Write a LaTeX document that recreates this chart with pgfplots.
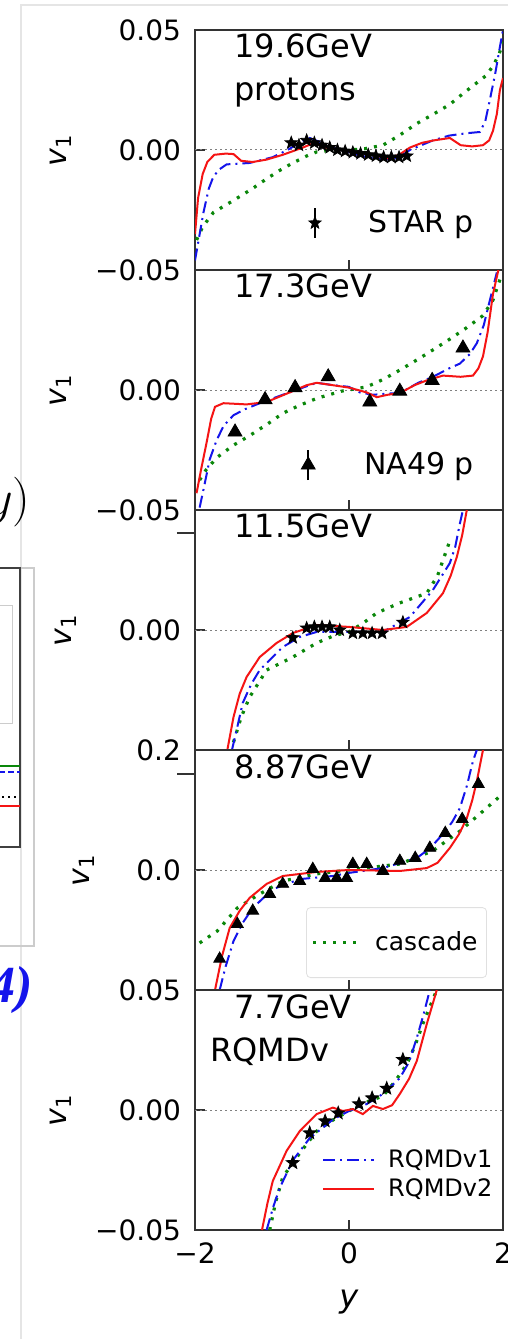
\documentclass[border=0pt]{standalone}
\usepackage{fontspec}
\setmainfont{DejaVu Sans}
\newfontfamily\timesfont{Liberation Serif}
\usepackage{pgfplots}
\pgfplotsset{compat=1.18}
\definecolor{mgreen}{RGB}{10,135,10}
\definecolor{mred}{RGB}{245,20,20}
\definecolor{mblue}{RGB}{20,20,235}
\pgfdeclareplotmark{fstar}{%
  \pgfpathmoveto{\pgfpointpolar{90}{\pgfplotmarksize}}%
  \pgfpathlineto{\pgfpointpolar{126}{0.42\pgfplotmarksize}}%
  \pgfpathlineto{\pgfpointpolar{162}{\pgfplotmarksize}}%
  \pgfpathlineto{\pgfpointpolar{198}{0.42\pgfplotmarksize}}%
  \pgfpathlineto{\pgfpointpolar{234}{\pgfplotmarksize}}%
  \pgfpathlineto{\pgfpointpolar{270}{0.42\pgfplotmarksize}}%
  \pgfpathlineto{\pgfpointpolar{306}{\pgfplotmarksize}}%
  \pgfpathlineto{\pgfpointpolar{342}{0.42\pgfplotmarksize}}%
  \pgfpathlineto{\pgfpointpolar{18}{\pgfplotmarksize}}%
  \pgfpathlineto{\pgfpointpolar{54}{0.42\pgfplotmarksize}}%
  \pgfpathclose\pgfusepathqfillstroke}
\tikzset{ann/.style={anchor=base west, inner sep=0pt, font=\fontsize{16}{19}\selectfont}}
\pgfplotsset{
  panel/.style={
    width=154pt, height=120pt, scale only axis,
    xmin=-2, xmax=2, xtick={-2,0,2}, xticklabels={},
    scaled ticks=false,
    xtick pos=left, ytick pos=left,
    tick align=inside, major tick length=5pt,
    axis line style={line width=1.2pt, black!80},
    every tick/.style={black!80, line width=0.9pt},
    ylabel={\textit{v}\textsubscript{1}},
    ylabel style={font=\fontsize{15}{18}\selectfont},
    ylabel shift=5pt,
    tick label style={font=\fontsize{14}{16}\selectfont},
    yticklabel style={xshift=-3.5pt},
    extra y tick style={tick align=outside, major tick length=9pt},
    extra y tick labels={},
  },
  redl/.style={mred, line width=1pt, forget plot},
  bluel/.style={mblue, line width=1pt, dash pattern=on 6pt off 2.5pt on 1pt off 2.5pt, forget plot},
  greenl/.style={mgreen, line width=1.6pt, dash pattern=on 1.5pt off 3.5pt, forget plot},
  zerol/.style={black!50, line width=0.5pt, dash pattern=on 1pt off 1.5pt, forget plot},
  errleg/.style={legend image code/.code={%
     \draw[black, line width=1pt] (0pt,-7.5pt) -- (0pt,7.5pt);
     \draw[##1] plot coordinates {(0pt,0pt)};
     \path[draw=none] (-4pt,0pt) -- (#1,0pt);}},
  lineleg/.style={legend image code/.code={%
     \draw[##1] (0pt,0pt) -- (#1,0pt);
     \path[draw=none] (0pt,0pt) -- ([xshift=5pt]#1,0pt);}},
}
\begin{document}
\begin{tikzpicture}
\path[use as bounding box] (0,0) rectangle (254pt,-669.5pt);
\fill[white] (0,0) rectangle (254pt,-669.5pt);
% fragments of the neighbouring figure on the left
\draw[black!10, line width=0.6pt] (10.5pt,-669.5pt) -- (10.5pt,-2.5pt) -- (254pt,-2.5pt);
\draw[black!20, line width=0.6pt] (-5pt,-284pt) -- (17pt,-284pt) -- (17pt,-473pt) -- (-5pt,-473pt);
\draw[black!75, line width=1pt] (-5pt,-284pt) -- (10pt,-284pt) -- (10pt,-423.5pt) -- (-5pt,-423.5pt);
\draw[black!20, line width=0.5pt] (-5pt,-302.5pt) -- (6pt,-302.5pt) -- (6pt,-361.5pt) -- (-5pt,-361.5pt);
\draw[mgreen, line width=1pt] (-5pt,-383pt) -- (10pt,-383pt);
\draw[mblue, line width=1pt, dash pattern=on 3pt off 1.5pt] (-5pt,-386pt) -- (10pt,-386pt);
\draw[black, line width=1pt, dash pattern=on 1pt off 2pt] (-5pt,-398.5pt) -- (10pt,-398.5pt);
\draw[mred, line width=1pt] (-5pt,-403pt) -- (10pt,-403pt);
\node[anchor=east, inner sep=0pt, font=\fontsize{25}{30}\selectfont] at (15.5pt,-251pt) {$(y)$};
\node[anchor=east, inner sep=0pt, text=mblue, font=\timesfont\bfseries\itshape\fontsize{26}{30}\selectfont] at (16.5pt,-495pt) {(2014)};

% ---------- panel 1 : 19.6 GeV ----------
\begin{axis}[panel, at={(97.5pt,-15pt)}, anchor=north west,
  ymin=-0.05, ymax=0.05, ytick={-0.05,0,0.05}, yticklabels={−0.05,0.00,0.05},
  legend style={at={(0.92,0.196)}, anchor=east, draw=none, fill=none, inner sep=0pt,
    font=\fontsize{15}{18}\selectfont}]
\addplot[zerol] coordinates {(-2,0) (2,0)};
\addplot[greenl] coordinates {(-1.98,-0.0375) (-1.9,-0.032) (-1.76,-0.026) (-1.5,-0.021) (-1.25,-0.016) (-1.07,-0.012) (-0.9,-0.0085) (-0.73,-0.0054) (-0.55,-0.0025) (-0.42,-0.0008) (-0.2,0) (0,0) (0.2,0.0005) (0.44,0.002) (0.65,0.006) (0.88,0.011) (1.1,0.015) (1.31,0.019) (1.5,0.024) (1.66,0.028) (1.78,0.031) (1.87,0.035) (1.95,0.04) (2,0.045)};
\addplot[bluel] coordinates {(-2,-0.046) (-1.95,-0.037) (-1.89,-0.026) (-1.82,-0.016) (-1.76,-0.011) (-1.68,-0.008) (-1.59,-0.006) (-1.29,-0.0054) (-0.99,-0.003) (-0.8,0) (-0.64,0.003) (-0.51,0.005) (-0.35,0.003) (-0.21,0.001) (0,-0.001) (0.23,-0.003) (0.53,-0.004) (0.65,-0.003) (0.79,0) (1.09,0.004) (1.3,0.006) (1.53,0.007) (1.7,0.0075) (1.77,0.012) (1.83,0.021) (1.9,0.032) (1.96,0.043) (2,0.05)};
\addplot[redl] coordinates {(-2,-0.035) (-1.96,-0.02) (-1.9,-0.01) (-1.84,-0.005) (-1.75,-0.002) (-1.6,-0.0015) (-1.5,-0.0017) (-1.4,-0.0045) (-1.25,-0.005) (-1.07,-0.004) (-0.86,-0.002) (-0.6,0.001) (-0.45,0.003) (-0.3,0.001) (-0.1,0) (0.1,-0.001) (0.3,-0.002) (0.5,-0.0035) (0.65,-0.002) (0.79,0.001) (0.95,0.003) (1.1,0.004) (1.31,0.005) (1.45,0.002) (1.6,0.0015) (1.74,0.002) (1.82,0.004) (1.87,0.008) (1.92,0.015) (1.96,0.025) (2,0.03)};
\addplot[black, only marks, mark=fstar, mark size=3.2pt, errleg=25pt]
  coordinates {(-0.75,0.003) (-0.65,0.002) (-0.55,0.004) (-0.45,0.003) (-0.35,0.002) (-0.25,0.001) (-0.15,0) (-0.05,-0.0005) (0.05,-0.001) (0.15,-0.0015) (0.25,-0.002) (0.35,-0.0025) (0.45,-0.003) (0.55,-0.003) (0.65,-0.003) (0.75,-0.0025)};
\addlegendentry{STAR p}
\node[ann] at (rel axis cs:0.127,0.8875) {19.6GeV};
\node[ann] at (rel axis cs:0.127,0.708) {protons};
\end{axis}

% ---------- panel 2 : 17.3 GeV ----------
\begin{axis}[panel, at={(97.5pt,-135pt)}, anchor=north west,
  ymin=-0.05, ymax=0.05, ytick={-0.05,0}, yticklabels={−0.05,0.00},
  legend style={at={(0.92,0.1875)}, anchor=east, draw=none, fill=none, inner sep=0pt,
    font=\fontsize{15}{18}\selectfont}]
\addplot[zerol] coordinates {(-2,0) (2,0)};
\addplot[greenl] coordinates {(-1.94,-0.0375) (-1.85,-0.033) (-1.71,-0.028) (-1.5,-0.023) (-1.29,-0.019) (-1.05,-0.014) (-0.86,-0.0097) (-0.65,-0.0065) (-0.42,-0.0035) (-0.1,-0.0005) (0.23,0.0013) (0.45,0.0045) (0.66,0.0083) (0.88,0.0125) (1.09,0.0167) (1.3,0.021) (1.53,0.026) (1.74,0.031) (1.87,0.0375) (1.96,0.046)};
\addplot[bluel] coordinates {(-1.94,-0.049) (-1.88,-0.04) (-1.81,-0.029) (-1.72,-0.021) (-1.63,-0.015) (-1.5,-0.0105) (-1.35,-0.008) (-1.16,-0.0055) (-0.86,-0.002) (-0.6,0.001) (-0.42,0.003) (-0.2,0.002) (0,0.0013) (0.14,-0.001) (0.31,-0.002) (0.5,-0.0015) (0.66,-0.0013) (0.9,0.003) (1.09,0.0055) (1.3,0.009) (1.44,0.011) (1.57,0.015) (1.66,0.0195) (1.75,0.027) (1.83,0.0375) (1.92,0.049)};
\addplot[redl] coordinates {(-1.98,-0.043) (-1.92,-0.033) (-1.85,-0.022) (-1.79,-0.012) (-1.74,-0.007) (-1.63,-0.0055) (-1.33,-0.006) (-1.07,-0.005) (-0.77,-0.001) (-0.55,0.002) (-0.42,0.003) (-0.21,0.002) (0,0.001) (0.23,-0.001) (0.36,-0.003) (0.5,-0.002) (0.66,-0.0013) (0.85,0.002) (1.01,0.004) (1.22,0.006) (1.45,0.0055) (1.61,0.006) (1.68,0.009) (1.74,0.014) (1.8,0.024) (1.87,0.04) (1.94,0.05)};
\addplot[black, only marks, mark=triangle*, mark size=4pt, errleg=26pt]
  coordinates {(-1.48,-0.0175) (-1.09,-0.004) (-0.70,0.001) (-0.27,0.0055) (0.27,-0.005) (0.66,-0.0005) (1.08,0.004) (1.48,0.0175)};
\addlegendentry{NA49 p}
\node[ann] at (rel axis cs:0.127,0.8875) {17.3GeV};
\end{axis}

% ---------- panel 3 : 11.5 GeV ----------
\begin{axis}[panel, at={(97.5pt,-255pt)}, anchor=north west,
  ymin=-0.062, ymax=0.062, ytick={-0.062,0}, yticklabels={0.2,0.00},
  extra y ticks={0.05}]
\addplot[zerol] coordinates {(-2,0) (2,0)};
\addplot[greenl] coordinates {(-1.5,-0.058) (-1.4,-0.045) (-1.29,-0.0346) (-1.07,-0.0207) (-0.73,-0.014) (-0.42,-0.0067) (-0.2,-0.003) (0,-0.001) (0.2,0.004) (0.36,0.0088) (0.66,0.014) (1.01,0.019) (1.15,0.028) (1.22,0.036) (1.3,0.045)};
\addplot[bluel] coordinates {(-1.52,-0.062) (-1.45,-0.05) (-1.38,-0.0377) (-1.27,-0.028) (-1.16,-0.0207) (-0.86,-0.0088) (-0.64,-0.0036) (-0.42,-0.001) (0,-0.001) (0.44,-0.001) (0.79,0.0067) (1.09,0.0207) (1.31,0.0346) (1.38,0.043) (1.44,0.055) (1.48,0.062)};
\addplot[redl] coordinates {(-1.58,-0.062) (-1.5,-0.045) (-1.42,-0.033) (-1.33,-0.0243) (-1.16,-0.014) (-0.94,-0.0067) (-0.73,-0.0016) (-0.42,0.0026) (0,0.0016) (0.44,0) (0.75,0.0016) (1.01,0.0088) (1.22,0.019) (1.32,0.028) (1.4,0.0377) (1.47,0.049) (1.53,0.062)};
\addplot[black, only marks, mark=fstar, mark size=3.2pt, forget plot]
  coordinates {(-0.73,-0.004) (-0.55,0.001) (-0.45,0.0016) (-0.35,0.0016) (-0.25,0.0016) (-0.12,0) (0.05,-0.0016) (0.18,-0.0016) (0.3,-0.0016) (0.43,-0.0016) (0.7,0.004)};
\node[ann] at (rel axis cs:0.127,0.8875) {11.5GeV};
\end{axis}

% ---------- panel 4 : 8.87 GeV ----------
\begin{axis}[panel, at={(97.5pt,-375pt)}, anchor=north west,
  ymin=-0.25, ymax=0.25, ytick={0}, yticklabels={0.0},
  extra y ticks={0.2},
  legend style={at={(0.948,0.05)}, anchor=south east, draw=black!12, fill=white,
    inner xsep=2.5pt, inner ysep=10pt, rounded corners=2pt,
    font=\fontsize{12.5}{15}\selectfont}]
\addplot[zerol] coordinates {(-2,0) (2,0)};
\addplot[greenl, forget plot=false, lineleg=24pt] coordinates {(-1.94,-0.152) (-1.71,-0.127) (-1.45,-0.079) (-1.16,-0.05) (-0.86,-0.023) (-0.42,-0.008) (0,0) (0.66,0.0125) (1.09,0.04) (1.44,0.081) (1.7,0.117) (1.92,0.148) (2,0.16)};
\addlegendentry{cascade}
\addplot[bluel] coordinates {(-1.68,-0.25) (-1.6,-0.2) (-1.5,-0.148) (-1.38,-0.11) (-1.25,-0.079) (-0.99,-0.04) (-0.64,-0.019) (-0.21,-0.0125) (0,-0.006) (0.44,0.004) (0.88,0.025) (1.05,0.045) (1.22,0.075) (1.34,0.1) (1.44,0.129) (1.53,0.175) (1.61,0.227) (1.66,0.25)};
\addplot[redl] coordinates {(-1.74,-0.25) (-1.65,-0.18) (-1.55,-0.121) (-1.42,-0.085) (-1.29,-0.058) (-1.07,-0.029) (-0.86,-0.0125) (-0.42,-0.004) (0,0) (0.66,-0.002) (1.01,0.004) (1.15,0.015) (1.31,0.046) (1.43,0.075) (1.53,0.108) (1.6,0.145) (1.66,0.185) (1.74,0.25)};
\addplot[black, only marks, mark=triangle*, mark size=3.4pt, forget plot]
  coordinates {(-1.68,-0.185) (-1.45,-0.1125) (-1.25,-0.085) (-1.03,-0.05) (-0.86,-0.029) (-0.64,-0.023) (-0.47,0.002) (-0.31,-0.017) (-0.16,-0.017) (-0.03,-0.017) (0.05,0.0125) (0.23,0.0125) (0.44,-0.002) (0.66,0.019) (0.86,0.025) (1.05,0.046) (1.25,0.077) (1.47,0.106) (1.68,0.179)};
\node[ann] at (rel axis cs:0.127,0.883) {8.87GeV};
\end{axis}

% ---------- panel 5 : 7.7 GeV ----------
\begin{axis}[panel, at={(97.5pt,-495pt)}, anchor=north west,
  ymin=-0.05, ymax=0.05, ytick={-0.05,0,0.05}, yticklabels={−0.05,0.00,0.05},
  xticklabels={−2,0,2}, xticklabel style={yshift=-3pt},
  xlabel={\textit{y}}, xlabel style={font=\fontsize{16}{19}\selectfont},
  xlabel shift=6pt,
  legend style={at={(0.98,0.231)}, anchor=east, draw=none, fill=none, inner sep=0pt,
    font=\fontsize{12}{14}\selectfont}]
\addplot[zerol] coordinates {(-2,0) (2,0)};
\addplot[greenl] coordinates {(-1.03,-0.05) (-0.95,-0.038) (-0.86,-0.028) (-0.64,-0.018) (-0.42,-0.0088) (-0.2,-0.004) (0,-0.0004) (0.2,0.003) (0.44,0.0058) (0.6,0.012) (0.75,0.019) (0.86,0.027) (0.96,0.036) (1.05,0.043) (1.14,0.05)};
\addplot[bluel, forget plot=false, lineleg=25.5pt] coordinates {(-1.07,-0.05) (-0.98,-0.04) (-0.9,-0.0325) (-0.73,-0.021) (-0.51,-0.0117) (-0.21,-0.004) (0,-0.0004) (0.23,0.0025) (0.44,0.0067) (0.66,0.0133) (0.78,0.02) (0.88,0.03) (0.97,0.04) (1.05,0.05)};
\addlegendentry{RQMDv1}
\addplot[redl, forget plot=false, lineleg=25.5pt] coordinates {(-1.13,-0.05) (-1.06,-0.039) (-0.99,-0.0296) (-0.81,-0.017) (-0.64,-0.0088) (-0.42,-0.0017) (-0.21,0.001) (-0.08,-0.0004) (0.05,0.0004) (0.18,-0.0017) (0.31,0.0017) (0.44,0.0004) (0.56,0.002) (0.66,0.0067) (0.78,0.013) (0.88,0.0204) (1.01,0.0358) (1.14,0.05)};
\addlegendentry{RQMDv2}
\addplot[black, only marks, mark=fstar, mark size=3.4pt, forget plot]
  coordinates {(-0.73,-0.022) (-0.51,-0.0096) (-0.31,-0.0046) (-0.14,-0.0013) (0.13,0.0025) (0.3,0.005) (0.49,0.009) (0.7,0.021)};
\node[ann] at (rel axis cs:0.127,0.883) {7.7GeV};
\node[ann] at (rel axis cs:0.049,0.704) {RQMDv};
\end{axis}
\end{tikzpicture}
\end{document}
